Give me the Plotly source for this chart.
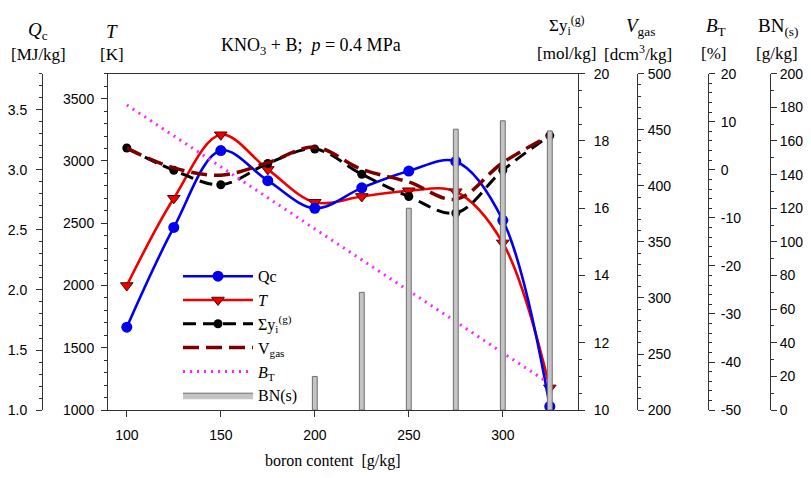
import plotly.graph_objects as go

# ---- data ----
boron = [100, 125, 150, 175, 200, 225, 250, 275, 300, 325]
qc = [1.69, 2.52, 3.16, 2.91, 2.68, 2.85, 2.99, 3.07, 2.58, 1.03]
temp = [2000, 2700, 3210, 2932, 2668, 2715, 2761, 2753, 2342, 1178]
sum_y = [17.79, 17.13, 16.70, 17.33, 17.76, 17.01, 16.35, 15.86, 17.13, 18.16]
v_gas = [433.6, 416.0, 409.5, 420.7, 434.5, 414.7, 403.4, 388.0, 420.7, 444.8]
b_t = [13.5, 7.1, 0.6, -5.8, -12.3, -18.7, -25.2, -31.6, -38.1, -44.5]
bn_x = [200, 225, 250, 275, 300, 325]
bn = [20, 70, 120, 167, 172, 166]

x_ticks = [100, 150, 200, 250, 300]
bt_ticks = [-50, -40, -30, -20, -10, 0, 10, 20]
bt_labels = ["-50", "-40", "-30", "-20", "-10", "0", "10", "20"]

W, H = 811, 478
def px(x):
    return x / W
def py(y):
    return 1 - y / H

SERIF = "Liberation Serif, Times New Roman, serif"
SANS = "Liberation Sans, Arial, sans-serif"
AX = "#333333"

fig = go.Figure()

fig.add_trace(go.Bar(x=bn_x, y=bn, yaxis="y6", name="BN(s)", width=2.6, showlegend=False,
                     marker=dict(color="#c4c4c4", line=dict(color="#6e6e6e", width=1))))
fig.add_trace(go.Scatter(x=boron, y=b_t, yaxis="y5", name="<i>B</i><sub>T</sub>", mode="lines",
                         legendrank=5,
                         line=dict(color="#ff22ff", width=3, dash="2px,5px")))
fig.add_trace(go.Scatter(x=boron, y=v_gas, yaxis="y4", name="V<sub>gas</sub>", mode="lines",
                         legendrank=4,
                         line=dict(color="#7a0000", width=3.5, dash="16px,7px", shape="spline")))
fig.add_trace(go.Scatter(x=boron, y=sum_y, yaxis="y3", name="Σy<sub>i</sub><sup>(g)</sup>", mode="lines+markers",
                         legendrank=3,
                         line=dict(color="black", width=3, dash="13px,7px", shape="spline"),
                         marker=dict(symbol="circle", size=9, color="black")))
fig.add_trace(go.Scatter(x=boron, y=temp, yaxis="y", name="<i>T</i>", mode="lines+markers",
                         legendrank=2,
                         line=dict(color="#ee0000", width=2.6, shape="spline"),
                         marker=dict(symbol="triangle-down", size=11, color="#ee0000",
                                     line=dict(color="#550000", width=1))))
fig.add_trace(go.Scatter(x=boron, y=qc, yaxis="y2", name="Qc", mode="lines+markers",
                         legendrank=1,
                         line=dict(color="#0000ee", width=2.6, shape="spline"),
                         marker=dict(symbol="circle", size=11, color="#0000ee")))
# legend entry for the bars (wide rectangle like the reference)
fig.add_trace(go.Scatter(x=[None], y=[None], yaxis="y6", name="BN(s)", mode="lines",
                         fill="toself", fillcolor="#c4c4c4", legendrank=6,
                         line=dict(color="#6e6e6e", width=1)))

ydom = [py(416), py(68)]
tickfont = dict(family=SANS, size=14, color="black")

def yax(rng, dtick, minor, side, **kw):
    d = dict(range=rng, dtick=dtick, tick0=rng[0], domain=ydom, side=side,
             showline=True, linecolor=AX, linewidth=1, ticks="outside", ticklen=6,
             tickcolor=AX, tickfont=tickfont, showgrid=False, zeroline=False,
             minor=dict(dtick=minor, ticks="outside", ticklen=3, tickcolor=AX, showgrid=False))
    d.update(kw)
    return d

fig.update_layout(
    width=W, height=H,
    margin=dict(l=0, r=0, t=0, b=0),
    paper_bgcolor="white", plot_bgcolor="white",
    showlegend=True,
    barmode="overlay",
    xaxis=dict(domain=[px(108), px(578)], range=[90, 340], tickvals=x_ticks,
               showline=True, linecolor=AX, linewidth=1, mirror=True,
               ticks="outside", ticklen=6, tickcolor=AX, tickfont=tickfont,
               ticklabelstandoff=6,
               showgrid=False, zeroline=False),
    yaxis=yax([1000, 3700], 500, 100, "left", anchor="x", ticklabelstandoff=4,
              tickvals=[1000, 1500, 2000, 2500, 3000, 3500]),
    yaxis2=yax([1.0, 3.8], 0.5, 0.1, "left", anchor="free", position=px(42), overlaying="y",
               ticklabelstandoff=6,
               tickformat=".1f", tickvals=[1.0, 1.5, 2.0, 2.5, 3.0, 3.5]),
    yaxis3=yax([10, 20], 2, 0.5, "right", anchor="x", overlaying="y", ticklabelstandoff=6),
    yaxis4=yax([200, 500], 50, 10, "right", anchor="free", position=px(637), overlaying="y",
               ticklabelstandoff=1),
    yaxis5=yax([-50, 20], 10, 2, "right", anchor="free", position=px(708), overlaying="y",
               ticklabelstandoff=3, tickvals=bt_ticks, ticktext=bt_labels),
    yaxis6=yax([0, 200], 20, 10, "right", anchor="free", position=px(770), overlaying="y"),
    legend=dict(x=px(178), y=py(260), xanchor="left", yanchor="top",
                bgcolor="rgba(0,0,0,0)", font=dict(family=SERIF, size=16, color="black"),
                itemwidth=70, traceorder="normal", tracegroupgap=0),
)

def label(x, y, text, size=17):
    fig.add_annotation(x=px(x), y=py(y), xref="paper", yref="paper", text=text,
                       showarrow=False, xanchor="center", yanchor="middle",
                       font=dict(family=SERIF, size=size, color="black"))

label(38, 24, "<i>Q</i><sub>c</sub>", 19)
label(38, 48, "[MJ/kg]")
label(112, 24, "<i>T</i>", 19)
label(112, 48, "[K]")
label(311, 40, "KNO<sub>3</sub> + B;  <i>p</i> = 0.4 MPa", 18)
label(567, 18, "Σy<sub>i</sub><sup>(g)</sup>")
label(567, 47, "[mol/kg]")
label(640, 20, "<i>V</i><sub>gas</sub>", 19)
label(638, 47, "[dcm<sup>3</sup>/kg]")
label(716, 20, "<i>B</i><sub>T</sub>", 19)
label(713, 47, "[%]")
label(778, 20, "BN<sub>(s)</sub>", 19)
label(777, 47, "[g/kg]")
label(333, 469, "boron content  [g/kg]", 16)

# remove the default page margin so the figure sits at the window origin
fig.write_html("out.html", config={"displayModeBar": False},
               post_script="document.body.style.margin='0';document.body.style.overflow='hidden';")
